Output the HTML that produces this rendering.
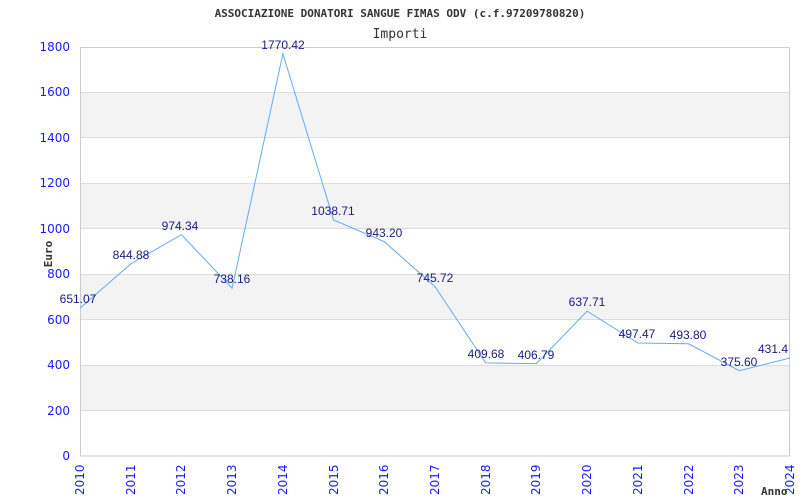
<!DOCTYPE html>
<html><head><meta charset="utf-8"><style>
body{margin:0;background:#fff}
svg{display:block}
.t{font-family:"DejaVu Sans Mono","Liberation Mono",monospace}
.yl{font-family:"DejaVu Sans","Liberation Sans",sans-serif;font-size:12px;fill:#1a1aff;text-anchor:end}
.xl{font-family:"DejaVu Sans","Liberation Sans",sans-serif;font-size:12px;fill:#1a1aff}
.dl{font-family:"Liberation Sans",sans-serif;font-size:12px;fill:#1a1a80;text-anchor:middle}
</style></head><body>
<svg width="800" height="500" xmlns="http://www.w3.org/2000/svg">
<text class="t" x="400" y="17" font-size="11" font-weight="bold" fill="#333" text-anchor="middle">ASSOCIAZIONE DONATORI SANGUE FIMAS ODV (c.f.97209780820)</text>
<text class="t" x="400" y="38" font-size="13" fill="#333" text-anchor="middle">Importi</text>
<g fill="#f3f3f3">
<rect x="80" y="365.1" width="710" height="45.4"/>
<rect x="80" y="274.2" width="710" height="45.5"/>
<rect x="80" y="183.3" width="710" height="45.5"/>
<rect x="80" y="92.4" width="710" height="45.5"/>
</g>
<g stroke="#ddd" stroke-width="1">
<line x1="80" y1="410.5" x2="790" y2="410.5"/>
<line x1="80" y1="365.5" x2="790" y2="365.5"/>
<line x1="80" y1="319.5" x2="790" y2="319.5"/>
<line x1="80" y1="274.5" x2="790" y2="274.5"/>
<line x1="80" y1="228.5" x2="790" y2="228.5"/>
<line x1="80" y1="183.5" x2="790" y2="183.5"/>
<line x1="80" y1="137.5" x2="790" y2="137.5"/>
<line x1="80" y1="92.5" x2="790" y2="92.5"/>
</g>
<rect x="80.5" y="47.5" width="709" height="408.5" fill="none" stroke="#ccc"/>
<g>
<text class="yl" x="70" y="460">0</text>
<text class="yl" x="70" y="415">200</text>
<text class="yl" x="70" y="369">400</text>
<text class="yl" x="70" y="324">600</text>
<text class="yl" x="70" y="278">800</text>
<text class="yl" x="70" y="233">1000</text>
<text class="yl" x="70" y="187">1200</text>
<text class="yl" x="70" y="142">1400</text>
<text class="yl" x="70" y="96">1600</text>
<text class="yl" x="70" y="51">1800</text>
</g>
<text class="t" x="0" y="0" font-size="11" font-weight="bold" fill="#333" transform="translate(52,254) rotate(-90)" text-anchor="middle">Euro</text>
<g>
<text class="xl" transform="translate(84,495) rotate(-90)">2010</text>
<text class="xl" transform="translate(135,495) rotate(-90)">2011</text>
<text class="xl" transform="translate(185,495) rotate(-90)">2012</text>
<text class="xl" transform="translate(236,495) rotate(-90)">2013</text>
<text class="xl" transform="translate(287,495) rotate(-90)">2014</text>
<text class="xl" transform="translate(338,495) rotate(-90)">2015</text>
<text class="xl" transform="translate(388,495) rotate(-90)">2016</text>
<text class="xl" transform="translate(439,495) rotate(-90)">2017</text>
<text class="xl" transform="translate(490,495) rotate(-90)">2018</text>
<text class="xl" transform="translate(540,495) rotate(-90)">2019</text>
<text class="xl" transform="translate(591,495) rotate(-90)">2020</text>
<text class="xl" transform="translate(642,495) rotate(-90)">2021</text>
<text class="xl" transform="translate(693,495) rotate(-90)">2022</text>
<text class="xl" transform="translate(743,495) rotate(-90)">2023</text>
<text class="xl" transform="translate(794,495) rotate(-90)">2024</text>
</g>
<text class="t" x="761" y="495" font-size="11" font-weight="bold" fill="#333">Anno</text>
<polyline fill="none" stroke="#66aaee" stroke-width="1" points="80,308.1 130.7,264 181.4,234.6 232.1,288.3 282.9,53.7 333.6,220 384.3,241.7 435,286.6 485.7,362.9 536.4,363.6 587.1,311.1 637.9,343 688.6,343.8 739.3,370.7 790,358"/>
<g>
<text class="dl" x="78" y="303">651.07</text>
<text class="dl" x="131" y="259">844.88</text>
<text class="dl" x="180" y="230">974.34</text>
<text class="dl" x="232" y="283">738.16</text>
<text class="dl" x="283" y="49">1770.42</text>
<text class="dl" x="333" y="215">1038.71</text>
<text class="dl" x="384" y="237">943.20</text>
<text class="dl" x="435" y="282">745.72</text>
<text class="dl" x="486" y="358">409.68</text>
<text class="dl" x="536" y="359">406.79</text>
<text class="dl" x="587" y="306">637.71</text>
<text class="dl" x="637" y="338">497.47</text>
<text class="dl" x="688" y="339">493.80</text>
<text class="dl" x="739" y="366">375.60</text>
<text class="dl" x="773" y="353" text-anchor="start">431.4</text>
</g>
</svg>
</body></html>
